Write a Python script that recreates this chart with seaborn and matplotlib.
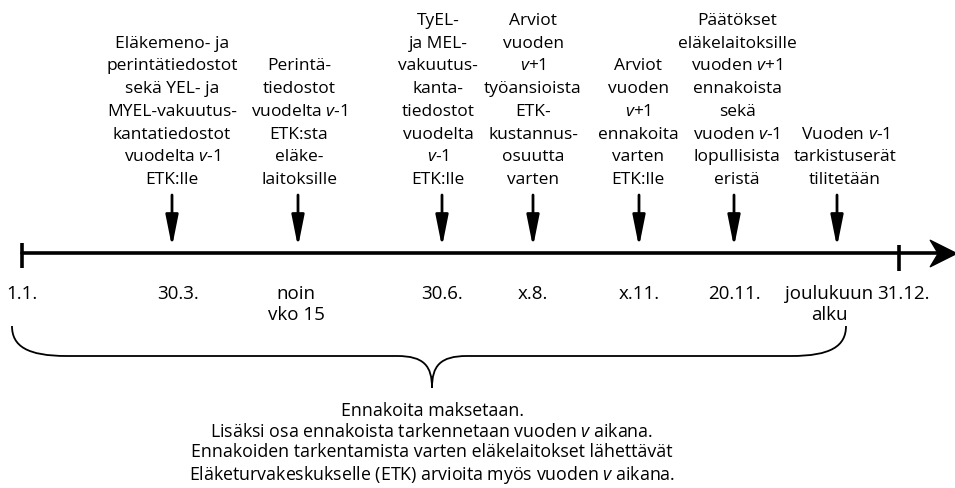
import matplotlib
matplotlib.use('Agg')
import matplotlib.pyplot as plt
import seaborn as sns
from matplotlib.path import Path
from matplotlib.patches import PathPatch


def it(s):
    return '$\\mathit{' + s + '}$'


V_MINUS_1 = it('v') + '-' + it('1')
V_PLUS_1 = it('v') + '+' + it('1')

# events on the timeline (x in pixel units of the 955 px wide figure)
event_x = [172, 298, 442, 533, 639, 734, 837]
label_x = [172, 299, 438, 533, 638, 737, 845]
event_labels = [
    'Eläkemeno- ja\nperintätiedostot\nsekä YEL- ja\nMYEL-vakuutus-\nkantatiedostot\nvuodelta ' + V_MINUS_1 + '\nETK:lle',
    'Perintä-\ntiedostot\nvuodelta ' + V_MINUS_1 + '\nETK:sta\neläke-\nlaitoksille',
    'TyEL-\nja MEL-\nvakuutus-\nkanta-\ntiedostot\nvuodelta\n' + V_MINUS_1 + '\nETK:lle',
    'Arviot\nvuoden\n' + V_PLUS_1 + '\ntyöansioista\nETK-\nkustannus-\nosuutta\nvarten',
    'Arviot\nvuoden\n' + V_PLUS_1 + '\nennakoita\nvarten\nETK:lle',
    'Päätökset\neläkelaitoksille\nvuoden ' + V_PLUS_1 + '\nennakoista\nsekä\nvuoden ' + V_MINUS_1 + '\nlopullisista\neristä',
    'Vuoden ' + V_MINUS_1 + '\ntarkistuserät\ntilitetään',
]

date_x = [22, 178, 296, 442, 533, 639, 734, 829, 903]
date_labels = ['1.1.', '30.3.', 'noin\nvko 15', '30.6.', 'x.8.', 'x.11.', '20.11.', 'joulukuun\nalku', '31.12.']

bottom_text = ('Ennakoita maksetaan.\n'
               'Lisäksi osa ennakoista tarkennetaan vuoden ' + it('v') + ' aikana.\n'
               'Ennakoiden tarkentamista varten eläkelaitokset lähettävät\n'
               'Eläketurvakeskukselle (ETK) arvioita myös vuoden ' + it('v') + ' aikana.')

# layout
line_y = 253
line_start, line_end = 22, 938
end_tick = 899
arrow_top, arrow_tip = 195, 247
brace_left, brace_right, brace_mid = 12, 846, 432

sns.set_theme(style='white')
plt.rcParams['font.family'] = ['Open Sans', 'DejaVu Sans']
plt.rcParams['mathtext.fontset'] = 'custom'
plt.rcParams['mathtext.rm'] = 'Open Sans'
plt.rcParams['mathtext.it'] = 'Open Sans:italic'

fig = plt.figure(figsize=(9.55, 4.88), dpi=100)
ax = fig.add_axes([0, 0, 1, 1])
ax.set_xlim(0, 955)
ax.set_ylim(488, 0)
ax.axis('off')

# main timeline
sns.lineplot(x=[line_start, line_end], y=[line_y, line_y], color='black', lw=2.6, ax=ax)
ax.vlines([line_start], line_y - 10, line_y + 15, color='black', lw=2.6)
ax.vlines([end_tick], line_y - 8, line_y + 18, color='black', lw=2.6)
stealth = Path([(-1, -1), (1, 0), (-1, 1), (-0.4, 0), (-1, -1)],
               [Path.MOVETO, Path.LINETO, Path.LINETO, Path.LINETO, Path.CLOSEPOLY])
ax.plot([943], [line_y], marker=stealth, markersize=19, color='black', mec='black')

# event arrows and labels
for x, lx, lab in zip(event_x, label_x, event_labels):
    ax.annotate('', xy=(x, arrow_tip), xytext=(x, arrow_top),
                arrowprops=dict(arrowstyle='-|>,head_length=1.9,head_width=0.38',
                                lw=2, color='black', mutation_scale=10,
                                shrinkA=0, shrinkB=0))
    ax.text(lx, 188, lab, ha='center', va='bottom', multialignment='center',
            fontsize=12.5, linespacing=1.56, color='black')

for x, lab in zip(date_x, date_labels):
    ax.text(x, 285, lab, ha='center', va='top', multialignment='center',
            fontsize=13.5, linespacing=1.18, color='black')

# curly brace
yt, yh, yb = 326, 356, 388
verts = [(brace_left, yt), (brace_left, yh - 10), (brace_left + 15, yh), (brace_left + 55, yh),
         (brace_mid - 35, yh),
         (brace_mid - 8, yh), (brace_mid, yh + 10), (brace_mid, yb),
         (brace_mid, yh + 10), (brace_mid + 8, yh), (brace_mid + 35, yh),
         (brace_right - 55, yh),
         (brace_right - 15, yh), (brace_right, yh - 10), (brace_right, yt)]
codes = [Path.MOVETO, Path.CURVE4, Path.CURVE4, Path.CURVE4,
         Path.LINETO,
         Path.CURVE4, Path.CURVE4, Path.CURVE4,
         Path.CURVE4, Path.CURVE4, Path.CURVE4,
         Path.LINETO,
         Path.CURVE4, Path.CURVE4, Path.CURVE4]
ax.add_patch(PathPatch(Path(verts, codes), fill=False, lw=1.3, color='black'))

ax.text(brace_mid, 402, bottom_text, ha='center', va='top', multialignment='center',
        fontsize=12.8, linespacing=1.19, color='black')

fig.savefig('out.png', dpi=100)
